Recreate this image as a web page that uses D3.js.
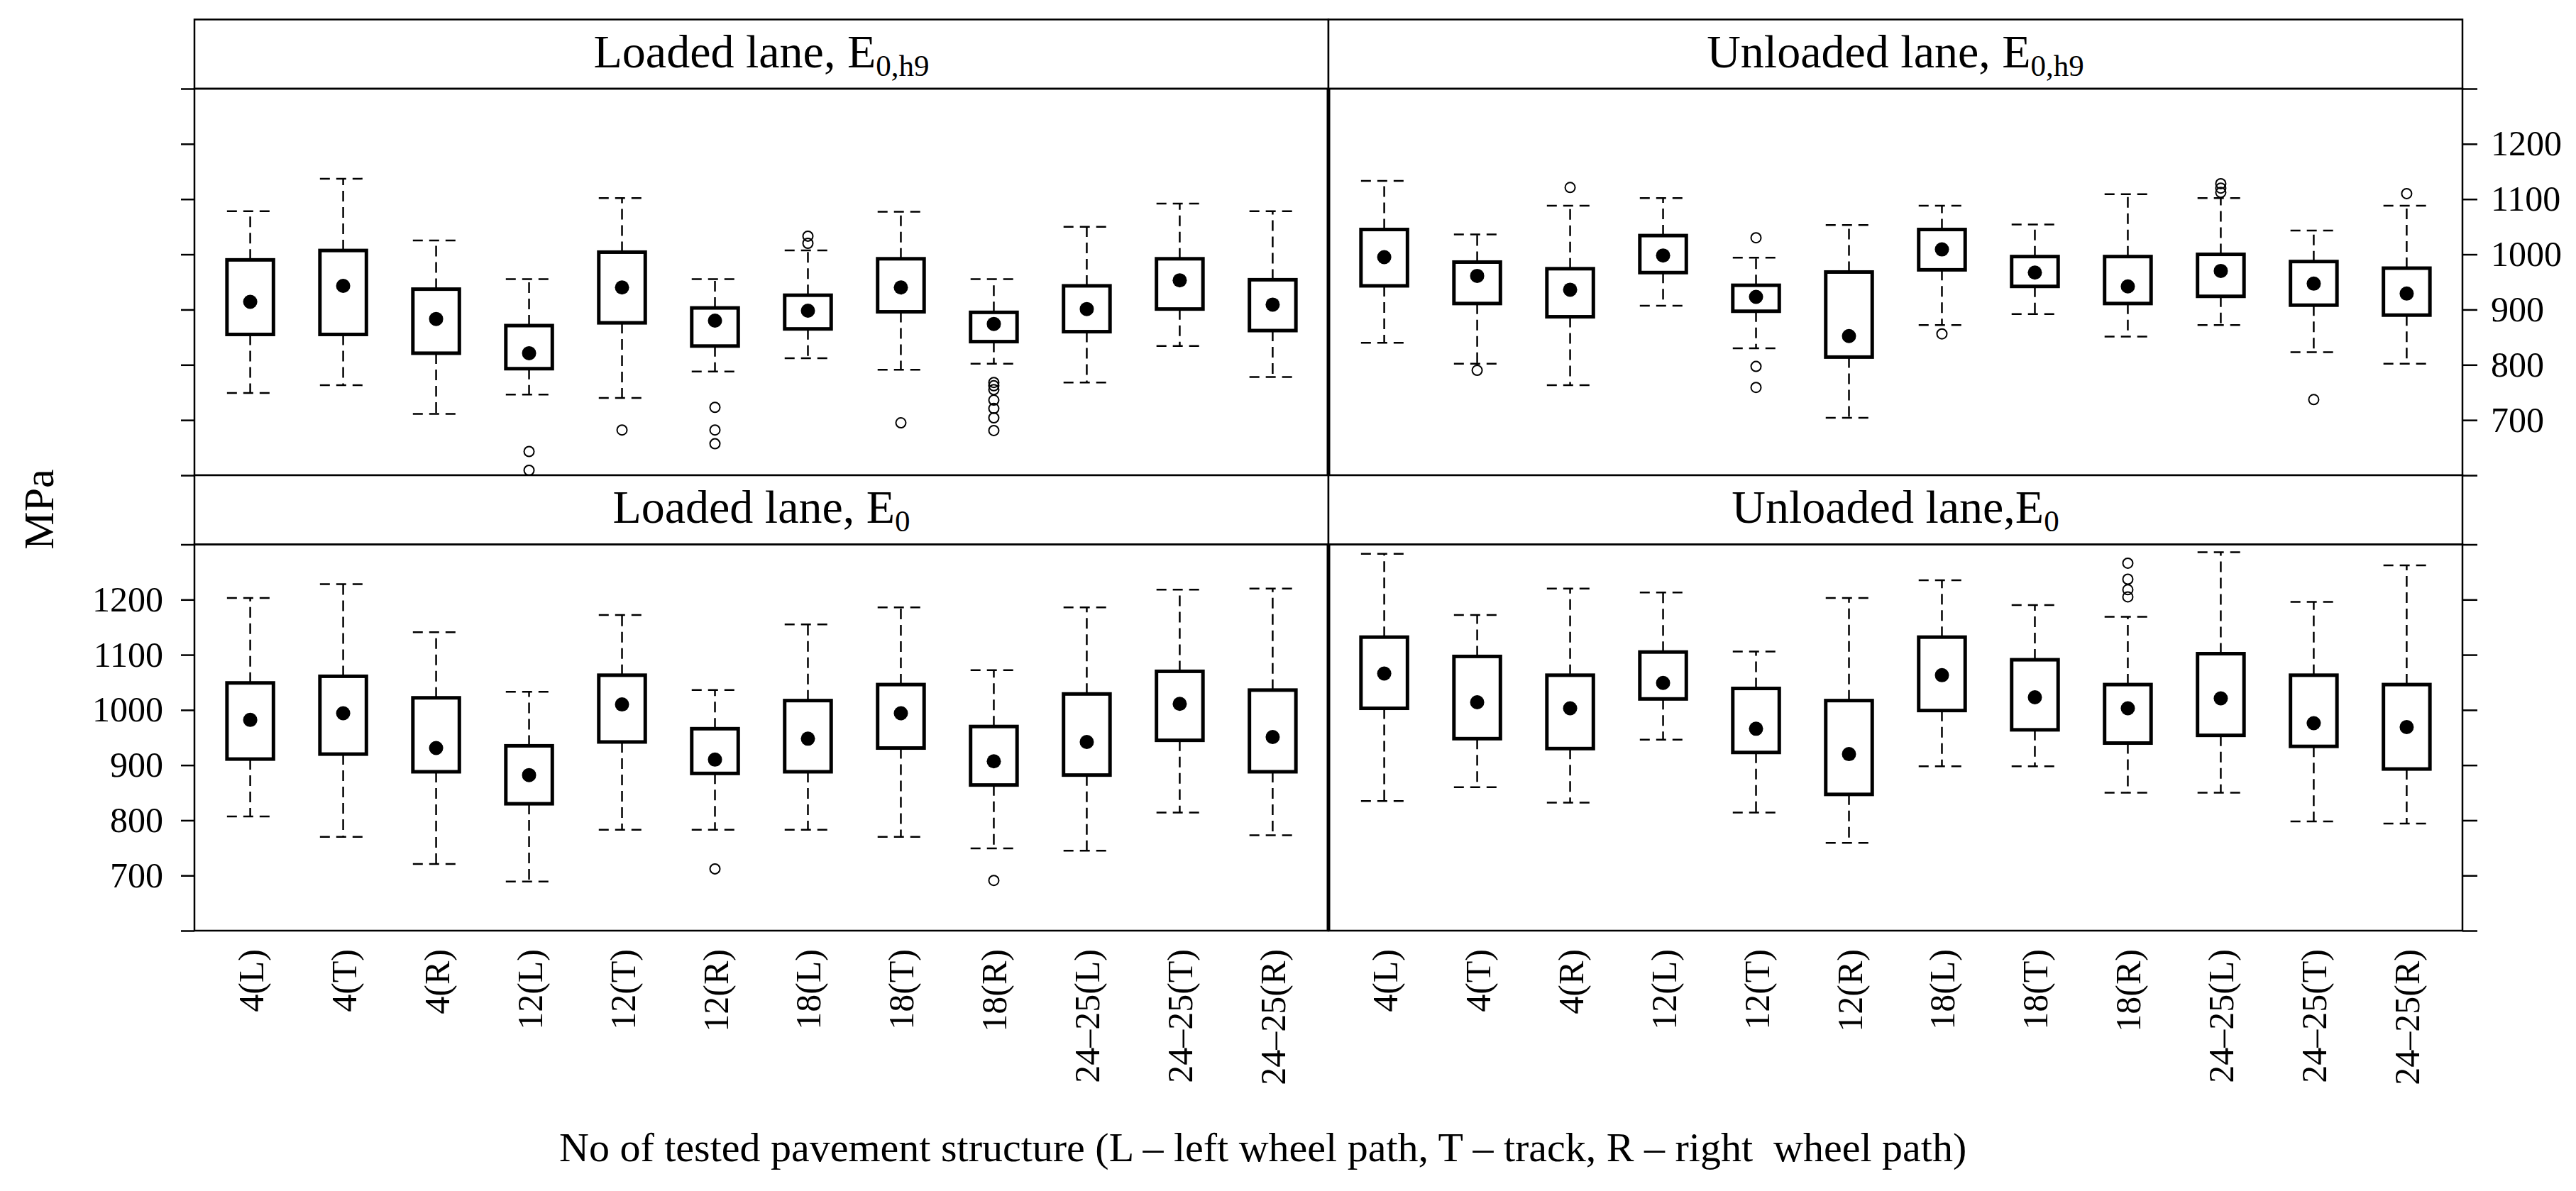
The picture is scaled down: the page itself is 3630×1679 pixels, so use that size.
<!DOCTYPE html>
<html>
<head>
<meta charset="utf-8">
<script src="https://cdn.jsdelivr.net/npm/d3@7"></script>
<style>
body{margin:0;background:#fff;}
text{font-family:"Liberation Serif","Times New Roman",serif;fill:#000;}
</style>
</head>
<body>
<div id="chart"></div>
<script>
var categories = ["4(L)","4(T)","4(R)","12(L)","12(T)","12(R)","18(L)","18(T)","18(R)","24–25(L)","24–25(T)","24–25(R)"];
var yTicks = [600,700,800,900,1000,1100,1200,1300];
var yLabels = [700,800,900,1000,1100,1200];

// each row: [lower whisker, Q1, median, Q3, upper whisker]
var loadedH9 = [
	[749,855,914,990,1078],[763,855,943,1007,1137],[711,821,883,937,1025],
	[746,793,821,871,955],[740,876,940,1004,1102],[788,834,880,903,955],
	[812,865,898,926,1007],[791,896,940,992,1077],[802,842,874,895,955],
	[768,860,901,943,1050],[834,901,953,992,1092],[778,862,909,954,1078]
];
var loadedH9Out = [[],[],[],[643,609],[682],[723,682,657],[1033,1020],[695],
	[768,762,755,736,721,704,681],[],[],[]];

var unloadedH9 = [
	[840,943,995,1045,1133],[802,911,961,986,1036],[763,887,936,974,1088],
	[907,967,998,1034,1102],[830,897,923,944,994],[704,814,852,968,1053],
	[872,972,1009,1045,1088],[892,942,967,996,1054],[851,911,942,996,1109],
	[872,924,970,1000,1102],[823,908,947,987,1043],[802,890,929,975,1088]
];
var unloadedH9Out = [[],[790],[1121],[],[1030,797,759],[],[856],[],[],
	[1128,1120,1112],[737],[1110]];

var loadedE0 = [
	[807,911,982,1049,1203],[770,920,994,1061,1228],[721,888,931,1022,1141],
	[689,830,882,935,1033],[783,942,1010,1063,1172],[783,885,910,966,1036],
	[783,888,948,1017,1155],[770,931,994,1046,1186],[749,864,907,970,1072],
	[745,882,942,1029,1186],[814,945,1011,1070,1218],[773,888,951,1036,1220]
];
var loadedE0Out = [[],[],[],[],[],[712],[],[],[691],[],[],[]];

var unloadedE0 = [
	[835,1003,1066,1132,1283],[860,948,1014,1097,1172],[832,930,1003,1063,1220],
	[946,1020,1049,1105,1213],[814,923,966,1039,1106],[759,847,920,1017,1203],
	[898,999,1063,1132,1235],[898,964,1023,1091,1190],[850,940,1003,1046,1169],
	[850,954,1021,1102,1286],[798,934,976,1063,1196],[794,893,969,1046,1262]
];
var unloadedE0Out = [[],[],[],[],[],[],[],[],[1266,1237,1218,1205],[],[],[]];

var panels = [
	{main:"Loaded lane, E", sub:"0,h9", stats:loadedH9, out:loadedH9Out, col:0, row:0},
	{main:"Unloaded lane, E", sub:"0,h9", stats:unloadedH9, out:unloadedH9Out, col:1, row:0},
	{main:"Loaded lane, E", sub:"0", stats:loadedE0, out:loadedE0Out, col:0, row:1},
	{main:"Unloaded lane,E", sub:"0", stats:unloadedE0, out:unloadedE0Out, col:1, row:1}
];

var W = 3630, H = 1679;
var colX = [[274,1872],[1872,3470]];
var stripTop = [27.5,670];
var panelTop = [125,767.5];
var panelBottom = [670,1312];

var svg = d3.select("#chart").append("svg")
	.attr("width", W)
	.attr("height", H)
	.style("background", "#fff");

panels.forEach(function(p){
	var x0 = colX[p.col][0], x1 = colX[p.col][1];
	var top = panelTop[p.row], bottom = panelBottom[p.row];

	var x = d3.scalePoint().domain(categories).range([x0, x1]).padding(0.6);
	var y = d3.scaleLinear().domain([600,1300]).range([bottom, top]);
	var bw = x.step() * 0.5;

	var g = svg.append("g");

	// strip
	g.append("rect")
		.attr("x", x0).attr("y", stripTop[p.row])
		.attr("width", x1 - x0).attr("height", top - stripTop[p.row])
		.attr("fill", "#fff").attr("stroke", "#000").attr("stroke-width", 2.5);
	var st = g.append("text")
		.attr("x", (x0 + x1) / 2)
		.attr("y", stripTop[p.row] + 67)
		.attr("text-anchor", "middle")
		.style("font-size", "66px");
	st.append("tspan").text(p.main);
	st.append("tspan").attr("dy", 12).style("font-size", "43px").text(p.sub);

	// panel frame
	g.append("rect")
		.attr("x", x0).attr("y", top)
		.attr("width", x1 - x0).attr("height", bottom - top)
		.attr("fill", "none").attr("stroke", "#000").attr("stroke-width", 2.5);
	g.append("line")
		.attr("x1", p.col == 0 ? x1 - 1 : x0 + 1).attr("x2", p.col == 0 ? x1 - 1 : x0 + 1)
		.attr("y1", top).attr("y2", bottom)
		.attr("stroke", "#000").attr("stroke-width", 3);

	var box = g.selectAll("g.box").data(p.stats).enter().append("g")
		.attr("class", "box")
		.attr("transform", function(d, i){ return "translate(" + x(categories[i]) + ",0)"; });

	// whiskers
	box.append("line")
		.attr("x1", 0).attr("x2", 0)
		.attr("y1", function(d){ return y(d[3]); })
		.attr("y2", function(d){ return y(d[4]); })
		.attr("stroke", "#000").attr("stroke-width", 2.5).attr("stroke-dasharray", "15,8");
	box.append("line")
		.attr("x1", 0).attr("x2", 0)
		.attr("y1", function(d){ return y(d[1]); })
		.attr("y2", function(d){ return y(d[0]); })
		.attr("stroke", "#000").attr("stroke-width", 2.5).attr("stroke-dasharray", "15,8");
	[0, 4].forEach(function(k){
		box.append("line")
			.attr("x1", -bw / 2).attr("x2", bw / 2)
			.attr("y1", function(d){ return y(d[k]); })
			.attr("y2", function(d){ return y(d[k]); })
			.attr("stroke", "#000").attr("stroke-width", 2.5).attr("stroke-dasharray", "14,9");
	});

	box.append("rect")
		.attr("x", -bw / 2).attr("width", bw)
		.attr("y", function(d){ return y(d[3]); })
		.attr("height", function(d){ return y(d[1]) - y(d[3]); })
		.attr("fill", "#fff").attr("stroke", "#000").attr("stroke-width", 5);

	box.append("circle")
		.attr("cx", 0)
		.attr("cy", function(d){ return y(d[2]); })
		.attr("r", 10)
		.attr("fill", "#000");

	// outliers
	p.out.forEach(function(vals, i){
		g.selectAll(null).data(vals).enter().append("circle")
			.attr("cx", x(categories[i]))
			.attr("cy", function(d){ return y(d); })
			.attr("r", 7)
			.attr("fill", "none")
			.attr("stroke", "#000")
			.attr("stroke-width", 2);
	});

	// y axis on outer side only
	var labelled = (p.row == 0 && p.col == 1) || (p.row == 1 && p.col == 0);
	var fmt = function(d){ return labelled && yLabels.indexOf(d) >= 0 ? d : ""; };
	var ax = p.col == 0
		? d3.axisLeft(y).tickValues(yTicks).tickSize(19).tickPadding(25).tickFormat(fmt)
		: d3.axisRight(y).tickValues(yTicks).tickSize(21).tickPadding(19).tickFormat(fmt);
	var ga = g.append("g")
		.attr("transform", "translate(" + (p.col == 0 ? x0 : x1) + ",0)")
		.call(ax);
	ga.select(".domain").remove();
	ga.attr("font-family", null).attr("font-size", null);
	ga.selectAll("line").attr("stroke-width", 2.5);
	ga.selectAll("text").style("font-size", "50px");

	// category labels under bottom row
	if(p.row == 1){
		var gx = g.append("g")
			.attr("transform", "translate(0," + bottom + ")")
			.call(d3.axisBottom(x).tickSize(0).tickPadding(0));
		gx.select(".domain").remove();
		gx.attr("font-family", null).attr("font-size", null);
		gx.selectAll("text")
			.attr("transform", "rotate(-90)")
			.attr("x", -26)
			.attr("y", 0)
			.attr("dy", "0.35em")
			.attr("text-anchor", "end")
			.style("font-size", "50px");
	}
});

svg.append("text")
	.attr("transform", "translate(75,718) rotate(-90)")
	.attr("text-anchor", "middle")
	.style("font-size", "60px")
	.text("MPa");

svg.append("text")
	.attr("x", 788)
	.attr("y", 1637)
	.attr("text-anchor", "start")
	.style("font-size", "58px")
	.style("white-space", "pre")
	.text("No of tested pavement structure (L – left wheel path, T – track, R – right  wheel path)");
</script>
</body>
</html>
